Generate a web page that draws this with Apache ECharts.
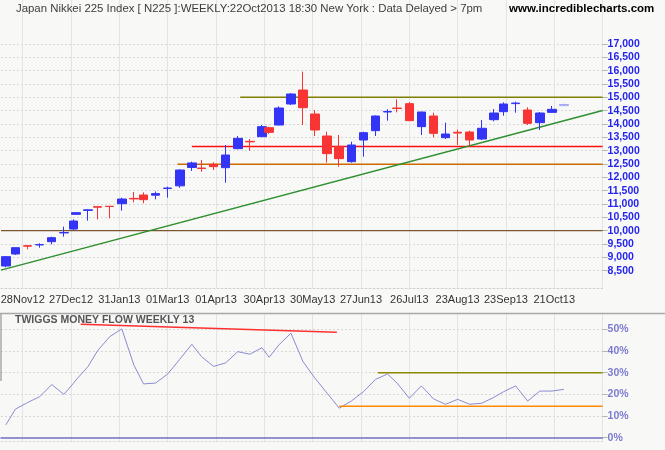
<!DOCTYPE html>
<html><head><meta charset="utf-8">
<script src="https://cdn.jsdelivr.net/npm/echarts@6/dist/echarts.min.js"></script>
<style>html,body{margin:0;padding:0;background:#f8f9f7}#c{width:665px;height:450px}</style>
</head><body><div id="c"></div>
<script>
// ---- calendar (trading-day axis) ----
const holidays = ['2012-11-23','2012-12-24','2012-12-31','2013-01-01','2013-01-02','2013-01-03','2013-01-14','2013-02-11','2013-03-20','2013-04-29','2013-05-03','2013-05-06','2013-07-15','2013-09-16'];
const axisStart = '2012-11-14';
const axisEnd = '2013-11-18';
const xTickLabels = ['28Nov12','27Dec12','31Jan13','01Mar13','01Apr13','30Apr13','30May13','27Jun13','26Jul13','23Aug13','23Sep13','21Oct13'];
const firstTickIndex = 9, tickEvery = 20;

// ---- weekly candles ----
const weekDates = ['2012-11-16','2012-11-22','2012-11-30','2012-12-07','2012-12-14','2012-12-21','2012-12-28','2013-01-04','2013-01-11','2013-01-18','2013-01-25','2013-02-01','2013-02-08','2013-02-15','2013-02-22','2013-03-01','2013-03-08','2013-03-15','2013-03-22','2013-03-29','2013-04-05','2013-04-12','2013-04-19','2013-04-26','2013-05-02','2013-05-10','2013-05-17','2013-05-24','2013-05-31','2013-06-07','2013-06-14','2013-06-21','2013-06-28','2013-07-05','2013-07-12','2013-07-19','2013-07-26','2013-08-02','2013-08-09','2013-08-16','2013-08-23','2013-08-30','2013-09-06','2013-09-13','2013-09-20','2013-09-27','2013-10-04','2013-10-11','2013-10-18','2013-10-25'];
const opens  = [8675,9125,9435,9465,9587,9915,10062,10612,10760,10900,10915,11012,11210,11337,11330,11580,11680,12370,12350,12487,12362,13075,13350,13525,13862,13962,14750,15275,14375,13550,13162,12587,13400,13750,14450,14600,14762,13900,14300,13487,13690,13700,13437,14162,14462,14765,14525,14050,14437,14690];
const closes = [9025,9362,9420,9480,9737,9930,10362,10675,10780,10880,10905,11187,11190,11162,11390,11600,12275,12540,12330,12400,12837,13462,13330,13900,13687,14600,15125,14612,13775,12887,12700,13212,13675,14300,14470,14580,14125,14450,13650,13625,13660,13400,13840,14412,14750,14785,14025,14412,14550,14730];
const lows   = [8625,9088,9300,9362,9487,9775,10025,10590,10375,10425,10462,10750,11060,11025,11175,11237,11610,12240,12212,12275,11800,13050,13000,13510,13625,13950,14712,13962,13550,12550,12400,12550,12775,13550,14125,14437,14110,13587,13500,13437,13212,13180,13400,14100,14312,14425,13962,13775,14430,14680];
const highs  = [9050,9370,9462,9525,9775,10150,10425,10700,10800,10912,10925,11237,11450,11437,11470,11650,12300,12590,12650,12562,13212,13550,13437,13962,13900,14660,15162,15962,14525,13712,13587,13337,13712,14320,14550,14925,14825,14460,14425,14050,13790,13750,14150,14560,14812,14837,14625,14450,14675,14760];

// ---- Twiggs Money Flow (%) ----
const tmf = [5.9,13.2,16.2,18.9,24.5,20.0,25.1,26.6,32.8,40.2,46.6,50.2,33.5,24.8,25.2,29.4,36.2,43.1,37.4,32.9,34.5,39.7,38.5,41.5,37.1,42.8,48.2,35.1,27.4,20.5,13.6,16.9,21.2,26.9,29.4,25.1,18.2,23.9,17.9,15.4,17.7,15.4,15.9,18.6,21.2,23.9,16.9,21.5,21.5,22.3];

// ---- drawn levels / trend lines ----
const priceResistance = [['2013-04-15',15000],['2013-11-18',15000]];
const priceSupportRed = [['2013-03-15',13160],['2013-11-18',13160]];
const priceSupportOrange = [['2013-03-07',12490],['2013-11-18',12490]];
const priceLevel10000 = [['2012-11-14',10000],['2013-11-18',10000]];
const priceTrend = [['2012-11-14',8521],['2013-11-18',14505]];
const tmfDownTrend = [['2013-01-08',52.4],['2013-06-13',48.6]];
const tmfLevelOlive = [['2013-07-08',30],['2013-11-18',30]];
const tmfLevelOrange = [['2013-06-14',14.5],['2013-11-18',14.5]];

// build trading-day categories
function fmt(d){return d.toISOString().slice(0,10);}
const days = [];
(function(){
  const hs = new Set(holidays);
  let d = new Date(axisStart+'T00:00:00Z');
  const end = new Date(axisEnd+'T00:00:00Z');
  while (d <= end) {
    const wd = d.getUTCDay();
    const s = fmt(d);
    if (wd !== 0 && wd !== 6 && !hs.has(s)) days.push(s);
    d = new Date(d.getTime()+86400000);
  }
})();
const isTick = (i) => i >= firstTickIndex && (i - firstTickIndex) % tickEvery === 0;

const candleData = weekDates.map((d,i) => {
  const item = {value:[d, opens[i], closes[i], lows[i], highs[i]]};
  if (i === weekDates.length-1) item.itemStyle = {color:'#aaaaf0', color0:'#aaaaf0', borderColor:'#aaaaf0', borderColor0:'#aaaaf0'};
  return item;
});
const tmfData = weekDates.map((d,i) => [d, tmf[i]]);

const FONT = '"Liberation Sans", Arial, sans-serif';
const L = 1, R = 62.4;
const gridBase = {left:L, right:R, outerBoundsMode:'none', containLabel:false};

function lineSeries(data, color, xi, yi, width){
  return {type:'line', xAxisIndex:xi, yAxisIndex:yi, data:data, symbol:'none', silent:true, clip:false,
    lineStyle:{color:color, width:width||1.5}, z:3, animation:false};
}

const chart = echarts.init(document.getElementById('c'), null, {renderer:'canvas'});
chart.setOption({
  animation:false,
  backgroundColor:'#f8f9f7',
  grid:[
    Object.assign({top:44, height:226.67}, gridBase),      // price
    Object.assign({top:0, height:288}, gridBase),          // price vertical grid + labels
    Object.assign({top:329.33, height:108.33}, gridBase),  // tmf
    Object.assign({top:313.5, height:128.2}, gridBase)     // tmf vertical grid
  ],
  xAxis:[
    {gridIndex:0, type:'category', data:days, boundaryGap:false, show:false},
    {gridIndex:1, type:'category', data:days, boundaryGap:false,
      axisLine:{show:true, lineStyle:{color:'#d0d0d0', type:[2,2], width:1}},
      axisTick:{show:false},
      axisLabel:{interval:(i)=>isTick(i) && i < days.length-1, margin:6, color:'#333', fontSize:11, fontFamily:FONT,
        formatter:(v,i)=>xTickLabels[(i-firstTickIndex)/tickEvery] || ''},
      splitLine:{show:true, interval:(i)=>isTick(i), lineStyle:{color:'#e4e4e4', width:1}}},
    {gridIndex:2, type:'category', data:days, boundaryGap:false,
      axisLine:{show:true, onZero:false, lineStyle:{color:'#7373c8', width:1.5}},
      axisTick:{show:false}, axisLabel:{show:false}, splitLine:{show:false}},
    {gridIndex:3, type:'category', data:days, boundaryGap:false,
      axisLine:{show:true, lineStyle:{color:'#dadada', type:[2,2], width:1}},
      axisTick:{show:false}, axisLabel:{show:false},
      splitLine:{show:true, interval:(i)=>isTick(i), lineStyle:{color:'#e4e4e4', width:1}}}
  ],
  yAxis:[
    {gridIndex:0, type:'value', min:8500, max:17000, interval:500, position:'right',
      axisLine:{show:false}, axisTick:{show:true, length:5, lineStyle:{color:'#b4b4b4'}},
      axisLabel:{margin:5, color:'#2424f0', fontWeight:'bold', fontSize:10.5, fontFamily:FONT,
        formatter:(v)=>v.toLocaleString('en-US')},
      splitLine:{show:true, lineStyle:{color:'#d6d6d6', type:[2,2], width:1}}},
    {gridIndex:1, type:'value', show:false},
    {gridIndex:2, type:'value', min:0, max:50, interval:10, position:'right',
      axisLine:{show:false}, axisTick:{show:true, length:5, lineStyle:{color:'#b4b4b4'}},
      axisLabel:{margin:5, color:'#7b7bd0', fontWeight:'bold', fontSize:10.5, fontFamily:FONT, formatter:'{value}%'},
      splitLine:{show:true, lineStyle:{color:'#d6d6d6', type:[2,2], width:1}}},
    {gridIndex:3, type:'value', show:false}
  ],
  series:[
    {type:'candlestick', xAxisIndex:0, yAxisIndex:0, data:candleData, encode:{x:0, y:[1,2,3,4]},
      barWidth:9, clip:false, z:4,
      itemStyle:{color:'#3434f6', color0:'#f83434', borderColor:'#3434f6', borderColor0:'#f83434', borderWidth:1}},
    lineSeries(priceLevel10000, '#7a5530', 0, 0, 1.3),
    lineSeries(priceSupportOrange, '#cc6a00', 0, 0, 1.5),
    lineSeries(priceSupportRed, '#ff1010', 0, 0, 1.5),
    lineSeries(priceResistance, '#7f7f00', 0, 0, 1.5),
    lineSeries(priceTrend, '#2f8f2f', 0, 0, 1.5),
    {type:'line', xAxisIndex:2, yAxisIndex:2, data:tmfData, symbol:'none', clip:false, silent:true,
      lineStyle:{color:'#8a8ad2', width:1}, z:3},
    lineSeries(tmfDownTrend, '#ff3030', 2, 2, 1.5),
    lineSeries(tmfLevelOlive, '#8a8a00', 2, 2, 1.5),
    lineSeries(tmfLevelOrange, '#ff8a00', 2, 2, 1.5)
  ],
  graphic:[
    {type:'text', left:16, top:3, z:1, style:{text:'Japan Nikkei 225 Index [ N225 ]:WEEKLY:22Oct2013 18:30 New York : Data Delayed > 7pm',
      font:'11.4px '+FONT, fill:'#3c3c3c'}},
    {type:'text', left:509, top:3, z:1, style:{text:'www.incrediblecharts.com', font:'bold 11.5px '+FONT, fill:'#000'}},
    {type:'line', z:1, shape:{x1:0, y1:313.5, x2:665, y2:313.5}, style:{stroke:'#a8a8a8', lineWidth:1.5}},
    {type:'line', z:1, shape:{x1:1, y1:313.5, x2:1, y2:381}, style:{stroke:'#a8a8a8', lineWidth:1.5}},
    {type:'text', left:15, top:315, z:1, style:{text:'TWIGGS MONEY FLOW WEEKLY 13', font:'bold 10.5px '+FONT, fill:'#555'}}
  ]
});
</script></body></html>
